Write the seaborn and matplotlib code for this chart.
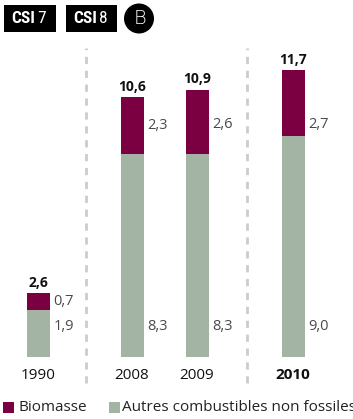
import matplotlib
matplotlib.use("Agg")
import matplotlib.pyplot as plt
from matplotlib import font_manager
from matplotlib.patches import Rectangle, Ellipse
import seaborn as sns
import pandas as pd

# ---- data ----
years = ["1990", "2008", "2009", "2010"]
autres = [1.9, 8.3, 8.3, 9.0]
biomasse = [0.7, 2.3, 2.6, 2.7]
totals = [2.6, 10.6, 10.9, 11.7]
labels_autres = ["1,9", "8,3", "8,3", "9,0"]
labels_bio = ["0,7", "2,3", "2,6", "2,7"]
labels_tot = ["2,6", "10,6", "10,9", "11,7"]
legend_labels = ["Biomasse", "Autres combustibles non fossiles"]

# ---- layout (pixel-based) ----
W, H = 353, 419
xpos = [38, 132, 197, 293]          # bar centres in px
bar_px = 23
base_px = 357                        # baseline, px from top
ppu = 24.5                           # px per unit
seps = [86, 247]

C_BIO = "#7b0041"
C_AUT = "#a3b4a5"
C_LAB = "#4a4a4a"
FONT = "Open Sans"

sns.set_theme(style="white")
plt.rcParams["font.family"] = [FONT, "DejaVu Sans"]

# condensed font for the badges, if any is installed
installed = {f.name for f in font_manager.fontManager.ttflist}
cond = None
for cand in ["Roboto Condensed", "Liberation Sans Narrow", "DejaVu Sans Condensed",
             "Open Sans Condensed"]:
    if cand in installed:
        cond = cand
        break
if cond is None:
    badge_family, badge_size = ["Roboto", "DejaVu Sans"], 10.5
else:
    badge_family, badge_size = [cond, "DejaVu Sans"], 12.5

df = pd.DataFrame({"year": years, "x": xpos, "autres": autres,
                   "biomasse": biomasse, "total": totals})

fig = plt.figure(figsize=(W / 100, H / 100), dpi=100)
ax = fig.add_axes([0, 0, 1, 1])

def yd(py):
    """pixel (from top) -> data y"""
    return (base_px - py) / ppu

wrel = bar_px / min(b - a for a, b in zip(xpos[:-1], xpos[1:]))
sns.barplot(data=df, x="x", y="total", native_scale=True, color=C_BIO,
            saturation=1, width=wrel, linewidth=0, ax=ax, errorbar=None)
sns.barplot(data=df, x="x", y="autres", native_scale=True, color=C_AUT,
            saturation=1, width=wrel, linewidth=0, ax=ax, errorbar=None)

ax.set_xlim(0, W)
ax.set_ylim(yd(H), yd(0))
ax.axis("off")

# separators
for sx in seps:
    ax.vlines(sx, yd(383), yd(48), colors="#cccccc", linewidth=2,
              linestyles=(0, (2.6, 2.4)))

# labels
for i, x in enumerate(xpos):
    a, b, t = autres[i], biomasse[i], totals[i]
    lx = x + bar_px / 2 + 4
    ax.text(lx, yd(327), labels_autres[i], ha="left", va="center",
            fontsize=10.5, color=C_LAB)
    ax.text(lx, min(a + b / 2, yd(125)), labels_bio[i], ha="left",
            va="center", fontsize=10.5, color=C_LAB)
    ax.text(x, t + 6.5 / ppu, labels_tot[i], ha="center", va="baseline",
            fontsize=10, fontweight="bold", color="#111111")
    ax.text(x, yd(375), years[i], ha="center", va="center",
            fontsize=11, color="#111111",
            fontweight="bold" if years[i] == "2010" else "normal")

# helpers for figure pixel coords
def fx(px):
    return px / W

def fy(py):
    return 1 - py / H

# legend
for (sx, col, lab, tx) in [(3, C_BIO, legend_labels[0], 19),
                           (109, C_AUT, legend_labels[1], 122)]:
    fig.patches.append(Rectangle((fx(sx), fy(413)), 10.5 / W, 11 / H,
                                 transform=fig.transFigure, color=col,
                                 linewidth=0))
    fig.text(fx(tx), fy(407.5), lab, ha="left", va="center", fontsize=11,
             color="#222222")

# header badges
for (bx0, bx1, num) in [(4, 56, "7"), (66, 117, "8")]:
    fig.patches.append(Rectangle((fx(bx0), fy(32)), (bx1 - bx0) / W, 27 / H,
                                 transform=fig.transFigure, color="black",
                                 linewidth=0))
    fig.text(fx(bx0 + 31), fy(18.5), "CSI", ha="right", va="center",
             fontsize=badge_size, fontweight="bold", color="white",
             family=badge_family)
    fig.text(fx(bx0 + 33), fy(18.5), num, ha="left", va="center",
             fontsize=badge_size, color="white", family=badge_family)

fig.patches.append(Ellipse((fx(139), fy(18.5)), 30 / W, 30 / H,
                           transform=fig.transFigure, color="black",
                           linewidth=0))
fig.text(fx(139.5), fy(18.5), "B", ha="center", va="center", fontsize=14,
         color="white", fontweight="light",
         family=["DejaVu Sans"])

fig.savefig("out.png", dpi=100)
